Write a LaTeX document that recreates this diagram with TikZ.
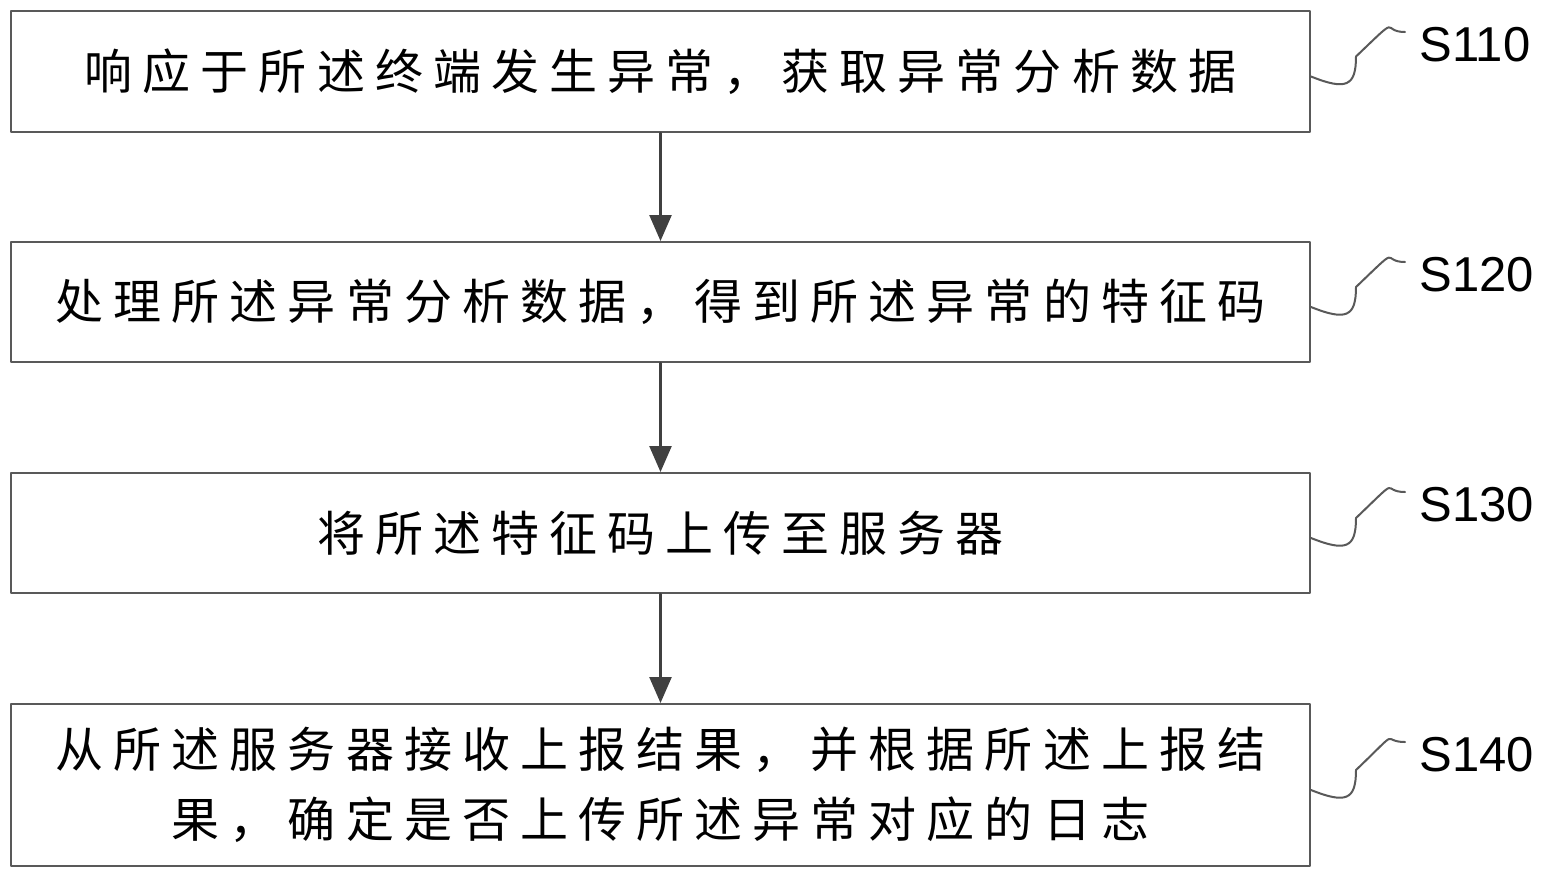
\documentclass[tikz,border=0pt]{standalone}
\usepackage{fontspec}
\setmainfont{Liberation Sans}
\newfontfamily\cjk[LetterSpace=21]{Noto Sans CJK SC}
\usetikzlibrary{arrows.meta}
\definecolor{boxgray}{rgb}{0.35,0.35,0.35}
\definecolor{arrgray}{rgb}{0.25,0.25,0.25}
\begin{document}
\begin{tikzpicture}[x=1pt,y=-1pt,line cap=round,line join=round,
  stepbox/.style={draw=boxgray,line width=2pt,minimum width=1299pt,inner sep=0pt,
    font=\cjk\fontsize{48}{70}\selectfont,align=center},
  flow/.style={draw=arrgray,line width=2.5pt,-{Triangle[length=26pt,width=22pt]}},
  tag/.style={font=\fontsize{49}{49}\selectfont,anchor=west}]
\useasboundingbox (0,0) rectangle (1545,879);
% steps
\node[stepbox,minimum height=121pt] (s1) at (660.5,71.5) {响应于所述终端发生异常，获取异常分析数据};
\node[stepbox,minimum height=120pt] (s2) at (660.5,302) {处理所述异常分析数据，得到所述异常的特征码};
\node[stepbox,minimum height=120pt] (s3) at (660.5,533) {将所述特征码上传至服务器};
\node[stepbox,minimum height=162pt] (s4) at (660.5,785) {从所述服务器接收上报结果，并根据所述上报结\\果，确定是否上传所述异常对应的日志};
% arrows
\draw[flow] (s1.south) -- (s2.north);
\draw[flow] (s2.south) -- (s3.north);
\draw[flow] (s3.south) -- (s4.north);
% labels
\foreach \s/\n/\y in {s1/S110/32,s2/S120/262,s3/S130/492,s4/S140/742}{
  \coordinate (e\n) at (1405,\y);
  \node[tag] (t\n) at (1416,\y+13) {\n};
  \draw[boxgray,line width=2pt] ([yshift=-5pt]\s.east) .. controls +(35,14) and +(0,30) .. +(45,-20)
    .. controls +(47,-45) and +(-25,0) .. (e\n);
}
\end{tikzpicture}
\end{document}
